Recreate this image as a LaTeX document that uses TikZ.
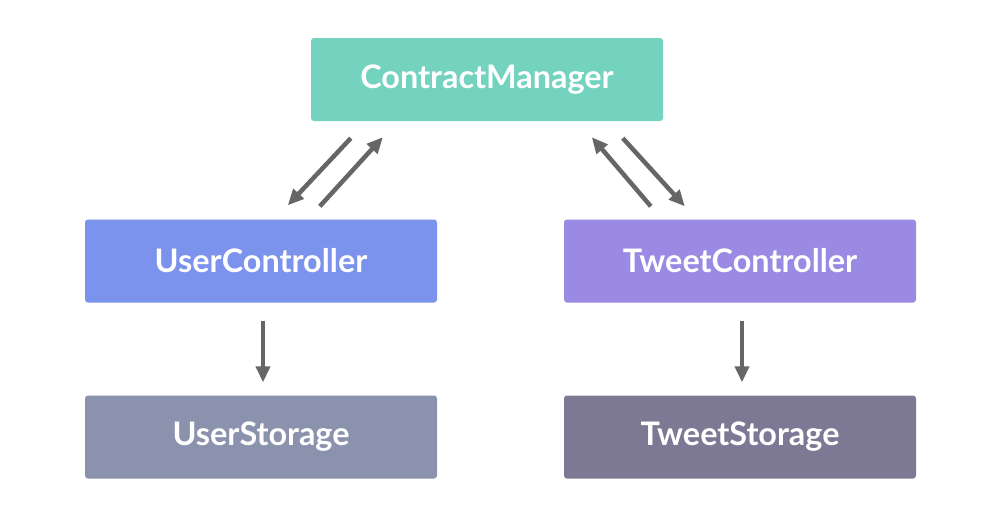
\documentclass[tikz,border=0pt]{standalone}
\usepackage{fontspec}
\setmainfont{Lato}
\usetikzlibrary{arrows.meta,calc}
\definecolor{cmcol}{HTML}{74D3BF}
\definecolor{uccol}{HTML}{7B93EC}
\definecolor{tccol}{HTML}{9A8AE3}
\definecolor{uscol}{HTML}{8A92AE}
\definecolor{tscol}{HTML}{7D7893}
\definecolor{arrcol}{HTML}{666666}
\tikzset{
  box/.style={rectangle, rounded corners=3pt, minimum width=352pt, minimum height=83pt,
    inner sep=0pt, text=white, font=\fontsize{32.4}{38}\selectfont\bfseries},
  conn/.style={draw=arrcol, line width=4.5pt, -{Triangle[length=16pt,width=14pt]}}
}
\begin{document}
\begin{tikzpicture}[x=1pt,y=-1pt]
\useasboundingbox[fill=white] (0,0) rectangle (1000,522);
\node[box, fill=cmcol] (cm) at (487,79.5) {ContractManager};
\node[box, fill=uccol] (uc) at (261,261) {UserController};
\node[box, fill=tccol] (tc) at (740,261) {TweetController};
\node[box, fill=uscol] (us) at (261,437) {UserStorage};
\node[box, fill=tscol] (ts) at (740,437) {TweetStorage};
\coordinate (a1s) at ($(cm.south west)+(40,17)$);
\coordinate (a1e) at ($(uc.north west)+(203,-14)$);
\coordinate (a2s) at ($(uc.north west)+(235,-13)$);
\coordinate (a2e) at ($(cm.south west)+(72,16)$);
\coordinate (b1s) at ($(tc.north west)+(87,-13)$);
\coordinate (b1e) at ($(cm.south west)+(281,16)$);
\coordinate (b2s) at ($(cm.south west)+(312,17)$);
\coordinate (b2e) at ($(tc.north west)+(121,-13)$);
\coordinate (c1s) at ($(uc.south)+(2,18)$);
\coordinate (c1e) at ($(us.north)+(2,-13)$);
\coordinate (c2s) at ($(tc.south)+(2,18)$);
\coordinate (c2e) at ($(ts.north)+(2,-13)$);
\draw[conn] (a1s) -- (a1e);
\draw[conn] (a2s) -- (a2e);
\draw[conn] (b1s) -- (b1e);
\draw[conn] (b2s) -- (b2e);
\draw[conn] (c1s) -- (c1e);
\draw[conn] (c2s) -- (c2e);
\end{tikzpicture}
\end{document}
